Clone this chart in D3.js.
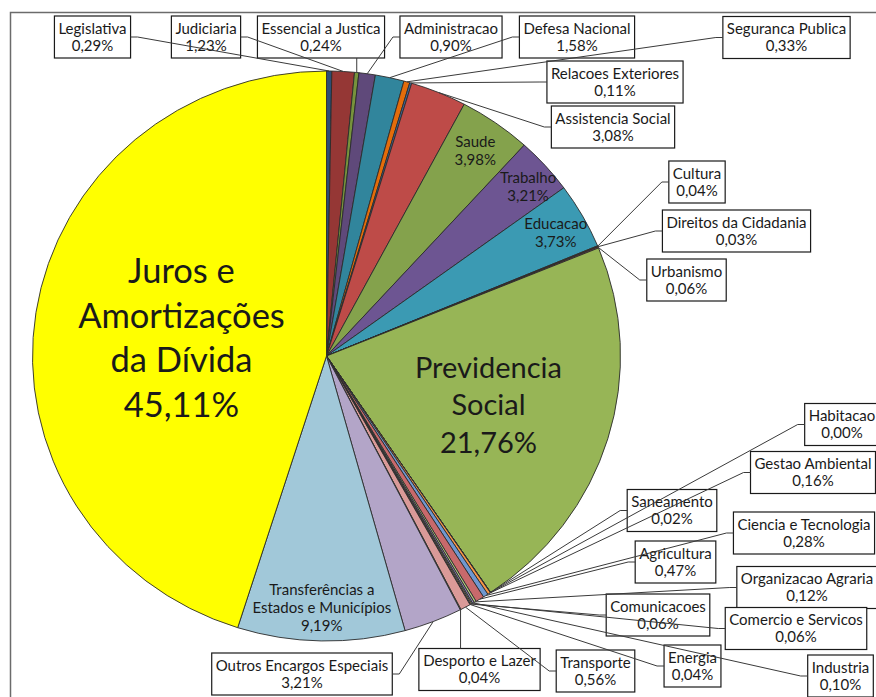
<!DOCTYPE html>
<html>
<head>
<meta charset="utf-8">
<script src="https://cdn.jsdelivr.net/npm/d3@7"></script>
<style>
  html, body { margin: 0; padding: 0; background: #ffffff; }
  svg { display: block; font-family: Lato, "Noto Sans", sans-serif; }
</style>
</head>
<body>
<div id="chart"></div>
<script>
// Budget share per function, in pie order (clockwise from 12 o'clock).
const categories = [
    "Legislativa", "Judiciaria", "Essencial a Justica", "Administracao",
    "Defesa Nacional", "Seguranca Publica", "Relacoes Exteriores",
    "Assistencia Social", "Saude", "Trabalho", "Educacao", "Cultura",
    "Direitos da Cidadania", "Urbanismo", "Previdencia Social", "Habitacao",
    "Saneamento", "Gestao Ambiental", "Ciencia e Tecnologia", "Agricultura",
    "Organizacao Agraria", "Industria", "Comercio e Servicos", "Comunicacoes",
    "Energia", "Transporte", "Desporto e Lazer", "Outros Encargos Especiais",
    "Transferências a Estados e Municípios", "Juros e Amortizações da Dívida"
];
const shares = [
    0.29, 1.23, 0.24, 0.90, 1.58, 0.33, 0.11, 3.08, 3.98, 3.21, 3.73, 0.04,
    0.03, 0.06, 21.76, 0.00, 0.02, 0.16, 0.28, 0.47, 0.12, 0.10, 0.06, 0.06,
    0.04, 0.56, 0.04, 3.21, 9.19, 45.11
];
const sliceColors = [
    "#2c4d75", "#953735", "#77933c", "#5f497a", "#31859c", "#e46c0a",
    "#3f6aa0", "#be4b48", "#84a24c", "#6d5592", "#3b9ab3", "#e07b2c",
    "#4f81bd", "#c0504d", "#97b556", "#8064a2", "#4bacc6", "#f79646",
    "#6f97d0", "#c8696b", "#b1c97d", "#9c86b8", "#71bdd2", "#f9aa6c",
    "#a7bcdd", "#da9a98", "#c5d8a2", "#b3a5c8", "#a1c8d9", "#ffff00"
];

// Labels drawn inside their slice: line breaks, radius fraction, nudge, font size.
const insideLabels = {
    "Saude": { lines: ["Saude"], r: 0.88, dx: 0, dy: 0, size: 15, gap: 18 },
    "Trabalho": { lines: ["Trabalho"], r: 0.89, dx: 7, dy: 0, size: 15, gap: 18 },
    "Educacao": { lines: ["Educacao"], r: 0.88, dx: 4, dy: 0, size: 15, gap: 18 },
    "Previdencia Social": { lines: ["Previdencia", "Social"], r: 0.59, dx: -4, dy: 0, size: 29, gap: 37.5 },
    "Transferências a Estados e Municípios": {
        lines: ["Transferências a", "Estados e Municípios"], r: 0.884, dx: 0, dy: 0, size: 15, gap: 18 },
    "Juros e Amortizações da Dívida": {
        lines: ["Juros e", "Amortizações", "da Dívida"], r: 0.42, dx: -23, dy: 0, size: 34.5, gap: 44.5 }
};

// Callout boxes for the small slices (box centre).
const calloutPos = {
    "Legislativa": [92.5, 37], "Judiciaria": [206, 37],
    "Essencial a Justica": [321, 37], "Administracao": [451, 37],
    "Defesa Nacional": [577, 37], "Seguranca Publica": [786.5, 37.5],
    "Relacoes Exteriores": [615, 82], "Assistencia Social": [613, 127],
    "Cultura": [697, 182], "Direitos da Cidadania": [736.5, 231],
    "Urbanismo": [686.5, 280], "Habitacao": [842, 424.5],
    "Gestao Ambiental": [813, 472.5], "Saneamento": [672, 510.5],
    "Ciencia e Tecnologia": [804, 533], "Agricultura": [675.5, 562],
    "Organizacao Agraria": [807, 587.5], "Comunicacoes": [658, 615],
    "Comercio e Servicos": [796, 628.5], "Energia": [692.5, 666],
    "Industria": [840.5, 676], "Transporte": [595.5, 671],
    "Desporto e Lazer": [479.5, 669.5], "Outros Encargos Especiais": [302, 674]
};

const WIDTH = 876;
const HEIGHT = 697;
const CX = 326.5;
const CY = 356;
const RY = 285;
const RX = 294;

const fmt = v => v.toFixed(2).replace(".", ",") + "%";

const data = categories.map((name, i) => ({ name, value: shares[i], color: sliceColors[i] }));

const svg = d3.select("#chart")
    .append("svg")
    .attr("width", WIDTH)
    .attr("height", HEIGHT);

// Chart area border
svg.append("rect")
    .attr("x", 10.5)
    .attr("y", 12.5)
    .attr("width", 900)
    .attr("height", 720)
    .attr("fill", "none")
    .attr("stroke", "#6b6b6b")
    .attr("stroke-width", 1.5);

const pie = d3.pie()
    .value(d => d.value)
    .sort(null);

const arcs = pie(data);

const arcGenerator = d3.arc()
    .innerRadius(0)
    .outerRadius(RY);

// Pie is slightly wider than tall in the reference.
const pieGroup = svg.append("g")
    .attr("transform", `translate(${CX},${CY}) scale(${RX / RY},1)`);

pieGroup.selectAll("path")
    .data(arcs)
    .join("path")
    .attr("d", arcGenerator)
    .attr("fill", d => d.data.color)
    .attr("stroke", "#2b2b2b")
    .attr("stroke-width", 0.9)
    .attr("vector-effect", "non-scaling-stroke");

const pointAt = (angle, f) => [
    CX + RX * f * Math.sin(angle),
    CY - RY * f * Math.cos(angle)
];

// Inside labels
arcs.filter(d => insideLabels[d.data.name]).forEach(d => {
    const cfg = insideLabels[d.data.name];
    const mid = (d.startAngle + d.endAngle) / 2;
    const [px, py] = pointAt(mid, cfg.r);
    const x = px + cfg.dx;
    const y = py + cfg.dy;
    const lines = cfg.lines.concat([fmt(d.data.value)]);
    const t = svg.append("text")
        .attr("text-anchor", "middle")
        .style("font-size", cfg.size + "px")
        .style("fill", "#1a1a1a");
    lines.forEach((line, i) => {
        t.append("tspan")
            .attr("x", x)
            .attr("y", y + (i - (lines.length - 1) / 2) * cfg.gap)
            .attr("dy", "0.35em")
            .text(line);
    });
});

// Callouts with leader lines
const callouts = svg.append("g");
const leaders = svg.append("g");

arcs.filter(d => calloutPos[d.data.name]).forEach(d => {
    const [bx, by] = calloutPos[d.data.name];
    const mid = (d.startAngle + d.endAngle) / 2;
    const [ax, ay] = pointAt(mid, 1);

    const g = callouts.append("g");
    const rect = g.append("rect");
    const t = g.append("text")
        .attr("text-anchor", "middle")
        .style("font-size", "15px")
        .style("fill", "#1a1a1a");
    [d.data.name, fmt(d.data.value)].forEach((line, i) => {
        t.append("tspan")
            .attr("x", bx)
            .attr("y", by + (i === 0 ? -8.5 : 8.5))
            .attr("dy", "0.35em")
            .text(line);
    });
    const w = t.node().getBBox().width;
    const left = bx - w / 2 - 4;
    const right = bx + w / 2 + 4;
    const top = by - 21;
    const bottom = by + 21;
    rect.attr("x", left)
        .attr("y", top)
        .attr("width", right - left)
        .attr("height", bottom - top)
        .attr("fill", "#ffffff")
        .attr("stroke", "#1a1a1a")
        .attr("stroke-width", 1.2);

    // Elbow to the nearest box side, or straight up/down when the box sits above/below.
    let pts;
    if (ax < left - 5) {
        pts = [[ax, ay], [left - 7, by], [left, by]];
    } else if (ax > right + 5) {
        pts = [[ax, ay], [right + 7, by], [right, by]];
    } else if (ay < top) {
        pts = [[ax, ay], [ax, top]];
    } else {
        pts = [[ax, ay], [ax, bottom]];
    }
    leaders.append("path")
        .attr("d", d3.line()(pts))
        .attr("fill", "none")
        .attr("stroke", "#3a3a3a")
        .attr("stroke-width", 1);
});
</script>
</body>
</html>
